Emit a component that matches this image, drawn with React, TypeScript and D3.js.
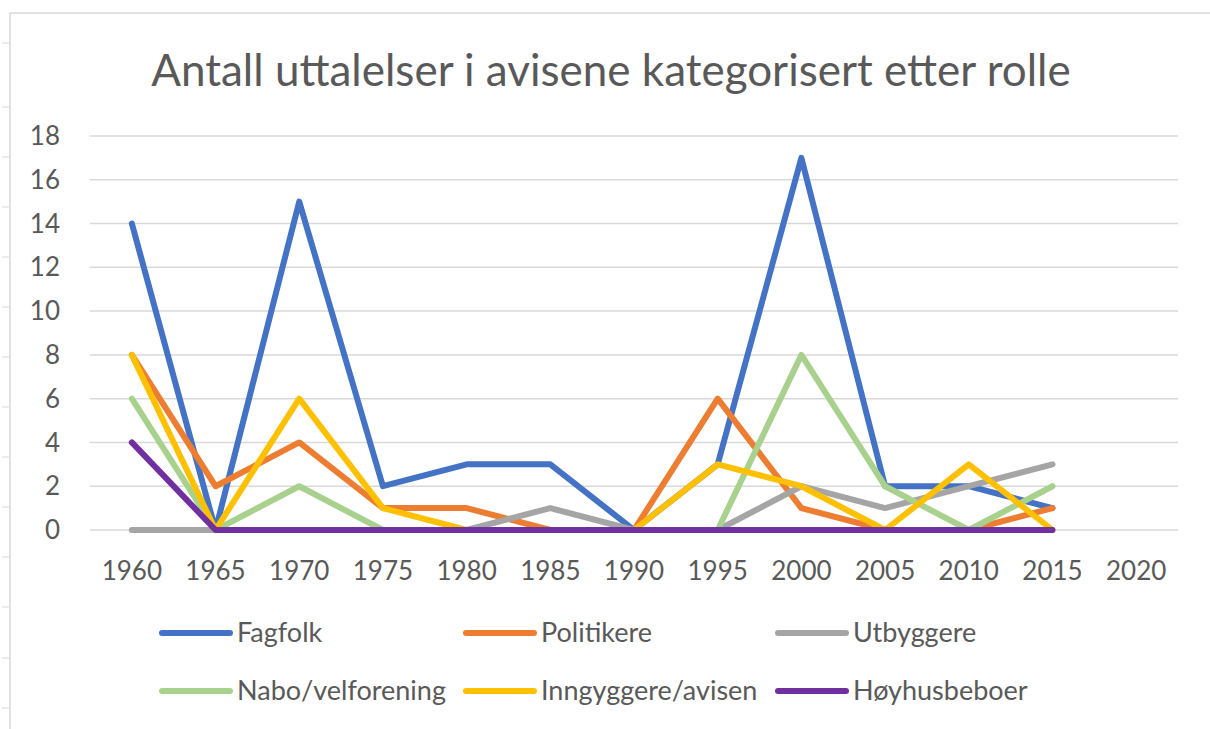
import React from 'react';
import * as d3 from 'd3';

// Categories and series values
const years = ['1960', '1965', '1970', '1975', '1980', '1985', '1990', '1995', '2000', '2005', '2010', '2015', '2020'];
const fagfolk = [14, 0, 15, 2, 3, 3, 0, 3, 17, 2, 2, 1];
const politikere = [8, 2, 4, 1, 1, 0, 0, 6, 1, 0, 0, 1];
const utbyggere = [0, 0, 0, 0, 0, 1, 0, 0, 2, 1, 2, 3];
const nabo = [6, 0, 2, 0, 0, 0, 0, 0, 8, 2, 0, 2];
const inngyggere = [8, 0, 6, 1, 0, 0, 0, 3, 2, 0, 3, 0];
const hoyhus = [4, 0, 0, 0, 0, 0, 0, 0, 0, 0, 0, 0];
const yTicks = [0, 2, 4, 6, 8, 10, 12, 14, 16, 18];

const title = 'Antall uttalelser i avisene kategorisert etter rolle';

const series = [
  { name: 'Fagfolk', values: fagfolk, color: '#4472C4' },
  { name: 'Politikere', values: politikere, color: '#ED7D31' },
  { name: 'Utbyggere', values: utbyggere, color: '#A5A5A5' },
  { name: 'Nabo/velforening', values: nabo, color: '#A9D18E' },
  { name: 'Inngyggere/avisen', values: inngyggere, color: '#FFC000' },
  { name: 'Høyhusbeboer', values: hoyhus, color: '#7030A0' },
];

const W = 1210;
const H = 729;
const plot = { left: 90, right: 1178, top: 136, bottom: 530 };
const textColor = '#595959';
const gridColor = '#D9D9D9';
const font = 'Lato, "Open Sans", sans-serif';

// spreadsheet row markers along the left edge
const rowMarks = [43, 107, 157, 207, 257, 307, 357, 407, 457, 507, 557, 607, 658, 708];

export default function App() {
  const x = d3.scaleBand<string>().domain(years).range([plot.left, plot.right]);
  const cx = (i: number) => (x(years[i]) ?? 0) + x.bandwidth() / 2;
  const y = d3.scaleLinear().domain([0, 18]).range([plot.bottom, plot.top]);

  const line = d3.line<number>()
    .x((_, i) => cx(i))
    .y(d => y(d));

  const legendCols = [162, 466, 778];
  const legendRows = [633, 691];

  return (
    <svg width={W} height={H} style={{ position: 'absolute', left: 0, top: 0 }}>
      <rect x={0} y={0} width={W} height={H} fill="#fff" />
      {/* chart frame */}
      <line x1={10} x2={W} y1={13} y2={13} stroke={gridColor} strokeWidth={1.5} />
      <line x1={10} x2={10} y1={13} y2={H} stroke={gridColor} strokeWidth={1.5} />
      {rowMarks.map((m, i) => (
        <line key={i} x1={2} x2={9} y1={m} y2={m} stroke={gridColor} strokeWidth={1} />
      ))}

      <text
        x={611}
        y={86}
        textAnchor="middle"
        fontFamily={font}
        fontWeight={400}
        fontSize={44}
        fill={textColor}
      >
        {title}
      </text>

      {/* gridlines */}
      {yTicks.map(t => (
        <line key={t} x1={plot.left} x2={plot.right} y1={y(t)} y2={y(t)} stroke={gridColor} strokeWidth={1.5} />
      ))}

      {/* y tick labels */}
      {yTicks.map(t => (
        <text key={t} x={60} y={y(t)} dy="0.35em" textAnchor="end" fontFamily={font} fontSize={26} fill={textColor}>
          {t}
        </text>
      ))}

      {/* x tick labels */}
      {years.map((yr, i) => (
        <text key={yr} x={cx(i)} y={580} textAnchor="middle" fontFamily={font} fontSize={26} fill={textColor}>
          {yr}
        </text>
      ))}

      {/* series */}
      {series.map(s => (
        <path
          key={s.name}
          d={line(s.values) ?? ''}
          fill="none"
          stroke={s.color}
          strokeWidth={6}
          strokeLinejoin="round"
          strokeLinecap="round"
        />
      ))}

      {/* legend */}
      {series.map((s, i) => {
        const lx = legendCols[i % 3];
        const ly = legendRows[Math.floor(i / 3)];
        return (
          <g key={s.name}>
            <line x1={lx} x2={lx + 68} y1={ly} y2={ly} stroke={s.color} strokeWidth={6} strokeLinecap="round" />
            <text x={lx + 75} y={ly} dy="0.35em" fontFamily={font} fontSize={27} fill={textColor}>
              {s.name}
            </text>
          </g>
        );
      })}
    </svg>
  );
}
